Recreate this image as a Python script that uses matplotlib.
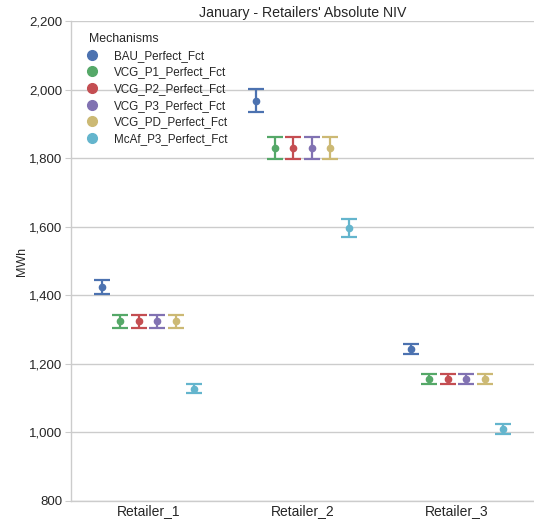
import matplotlib
matplotlib.use("Agg")
import matplotlib.pyplot as plt
import numpy as np
from matplotlib.ticker import FuncFormatter
from matplotlib.lines import Line2D

categories = ["Retailer_1", "Retailer_2", "Retailer_3"]
mechanisms = ["BAU_Perfect_Fct", "VCG_P1_Perfect_Fct", "VCG_P2_Perfect_Fct",
              "VCG_P3_Perfect_Fct", "VCG_PD_Perfect_Fct", "McAf_P3_Perfect_Fct"]
colors = ["#4C72B0", "#55A868", "#C44E52", "#8172B2", "#CCB974", "#64B5CD"]

means = {
    "BAU_Perfect_Fct":     [1423, 1968, 1244],
    "VCG_P1_Perfect_Fct":  [1324, 1830, 1155],
    "VCG_P2_Perfect_Fct":  [1324, 1830, 1155],
    "VCG_P3_Perfect_Fct":  [1324, 1830, 1155],
    "VCG_PD_Perfect_Fct":  [1324, 1830, 1155],
    "McAf_P3_Perfect_Fct": [1127, 1597, 1010],
}
lower = {
    "BAU_Perfect_Fct":     [1404, 1934, 1229],
    "VCG_P1_Perfect_Fct":  [1305, 1797, 1140],
    "VCG_P2_Perfect_Fct":  [1305, 1797, 1140],
    "VCG_P3_Perfect_Fct":  [1305, 1797, 1140],
    "VCG_PD_Perfect_Fct":  [1305, 1797, 1140],
    "McAf_P3_Perfect_Fct": [1115, 1571, 994],
}
upper = {
    "BAU_Perfect_Fct":     [1444, 2002, 1259],
    "VCG_P1_Perfect_Fct":  [1343, 1863, 1171],
    "VCG_P2_Perfect_Fct":  [1343, 1863, 1171],
    "VCG_P3_Perfect_Fct":  [1343, 1863, 1171],
    "VCG_PD_Perfect_Fct":  [1343, 1863, 1171],
    "McAf_P3_Perfect_Fct": [1140, 1623, 1025],
}

plt.rcParams['font.family'] = ['Liberation Sans', 'DejaVu Sans']

fig = plt.figure(figsize=(5.34, 5.21), dpi=100)
ax = fig.add_axes([0.133, 0.0384, 0.867, 0.9213])

x = np.arange(len(categories))
step = 0.12
n = len(mechanisms)
for i, (m, c) in enumerate(zip(mechanisms, colors)):
    off = (i - (n - 1) / 2) * step
    mu = np.array(means[m])
    lo = mu - np.array(lower[m])
    hi = np.array(upper[m]) - mu
    ax.errorbar(x + off, mu, yerr=[lo, hi], fmt='o', color=c, ecolor=c,
                markersize=4.5, elinewidth=1.6, capsize=6, capthick=1.6,
                label=m, zorder=3)

ax.set_xlim(-0.5, 2.5)
ax.set_ylim(800, 2200)
ax.set_xticks(x)
ax.set_xticklabels(categories)
ax.set_yticks(np.arange(800, 2201, 200))
ax.yaxis.set_major_formatter(FuncFormatter(lambda v, p: f"{int(v):,}"))
ax.grid(axis='y', color='#cccccc', linewidth=1)
ax.grid(axis='x', visible=False)
ax.set_axisbelow(True)
for s in ['top', 'right']:
    ax.spines[s].set_visible(False)
for s in ['left', 'bottom']:
    ax.spines[s].set_color('#cccccc')
    ax.spines[s].set_linewidth(1)
ax.tick_params(axis='y', length=4, color='#cccccc', labelsize=9.5, labelcolor='#262626', pad=2)
ax.tick_params(axis='x', length=0, labelsize=10, labelcolor='#262626', pad=2)
ax.set_ylabel("MWh", fontsize=9, color='#262626')
ax.yaxis.set_label_coords(-0.092, 0.5)
ax.set_title("January - Retailers' Absolute NIV", fontsize=10.2, color='#262626', pad=3)

handles = [Line2D([], [], marker='o', linestyle='', color=c, markersize=7) for c in colors]
leg = ax.legend(handles, mechanisms, title="Mechanisms", loc='upper left', frameon=False,
                fontsize=8.4, title_fontsize=8.9, handlelength=0.5, handletextpad=1.65,
                borderaxespad=0, borderpad=0, labelspacing=0.40, alignment='left',
                bbox_to_anchor=((89 - 71) / 463, 1 - 12 / 480))
leg.get_title().set_color('#262626')
for t in leg.get_texts():
    t.set_color('#262626')

fig.savefig("out.png", dpi=100)
